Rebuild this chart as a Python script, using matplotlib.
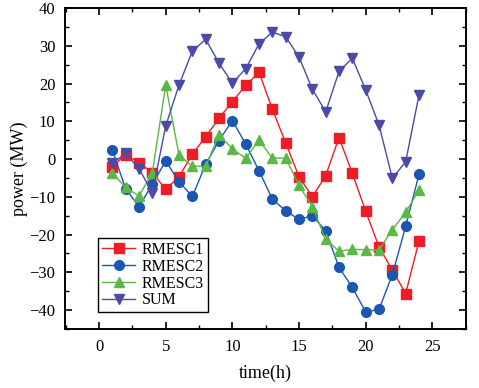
import matplotlib
matplotlib.use("Agg")
import matplotlib.pyplot as plt
from matplotlib.ticker import MultipleLocator

plt.rcParams['font.family'] = ['Liberation Serif', 'DejaVu Serif']

# Hourly power of each resource (MW)
hours = list(range(1, 25))
rmesc1 = [-2.0, 1.2, -1.0, -3.6, -8.0, -4.7, 1.3, 5.9, 10.8, 15.2, 19.5, 23.0,
          13.2, 4.3, -4.7, -10.0, -4.4, 5.7, -3.8, -13.8, -23.3, -29.4, -35.6, -21.7]
rmesc2 = [2.4, -7.9, -12.6, -6.7, -0.5, -6.0, -9.9, -1.4, 4.9, 10.2, 4.0, -3.1,
          -10.6, -13.7, -16.0, -15.0, -19.0, -28.7, -34.0, -40.5, -39.8, -30.6, -17.8, -4.0]
rmesc3 = [-3.8, -7.5, -9.8, -3.6, 19.6, 1.1, -1.9, -1.9, 6.4, 2.7, 0.2, 5.0,
          0.2, 0.3, -7.0, -12.6, -21.3, -24.4, -23.9, -24.0, -24.1, -18.7, -14.1, -8.2]
total = [-1.1, 1.5, -2.5, -9.0, 8.75, 19.6, 28.6, 31.7, 25.4, 20.1, 23.9, 30.5,
         33.6, 32.4, 27.0, 18.5, 12.5, 23.2, 26.7, 18.3, 9.0, -5.1, -0.7, 17.0]

fig = plt.figure(figsize=(4.79, 3.88), dpi=100)
ax = fig.add_axes([65 / 479, 1 - 329 / 388, 400.7 / 479, 321 / 388])

series = [
    (rmesc1, 'RMESC1', '#ee1c24', 's'),
    (rmesc2, 'RMESC2', '#1b57b1', 'o'),
    (rmesc3, 'RMESC3', '#5ab946', '^'),
    (total, 'SUM', '#4c4aa8', 'v'),
]
for vals, name, col, mk in series:
    ax.plot(hours, vals, color=col, marker=mk, markersize=7, linewidth=1.0, label=name)

ax.set_xlim(-2.55, 27.5)
ax.set_ylim(-45, 40)
ax.xaxis.set_major_locator(MultipleLocator(5))
ax.xaxis.set_minor_locator(MultipleLocator(2.5))
ax.yaxis.set_major_locator(MultipleLocator(10))
ax.yaxis.set_minor_locator(MultipleLocator(5))
ax.tick_params(which='both', direction='in', top=True, right=True, labelsize=12)
ax.tick_params(which='major', length=5, width=1.2, pad=7)
ax.tick_params(which='minor', length=3, width=1.0)
for sp in ax.spines.values():
    sp.set_linewidth(1.4)

ax.set_xlabel('time(h)', fontsize=13, labelpad=7)
ax.set_ylabel('power (MW)', fontsize=13, labelpad=1)

leg = ax.legend(loc='lower left', bbox_to_anchor=(0.082, 0.052), borderaxespad=0,
                fancybox=False, edgecolor='black', framealpha=1, fontsize=11.5,
                handlelength=2.1, handletextpad=0.4, labelspacing=0.05, borderpad=0.25)
leg.get_frame().set_linewidth(1.0)

fig.savefig('out.png', dpi=100)
